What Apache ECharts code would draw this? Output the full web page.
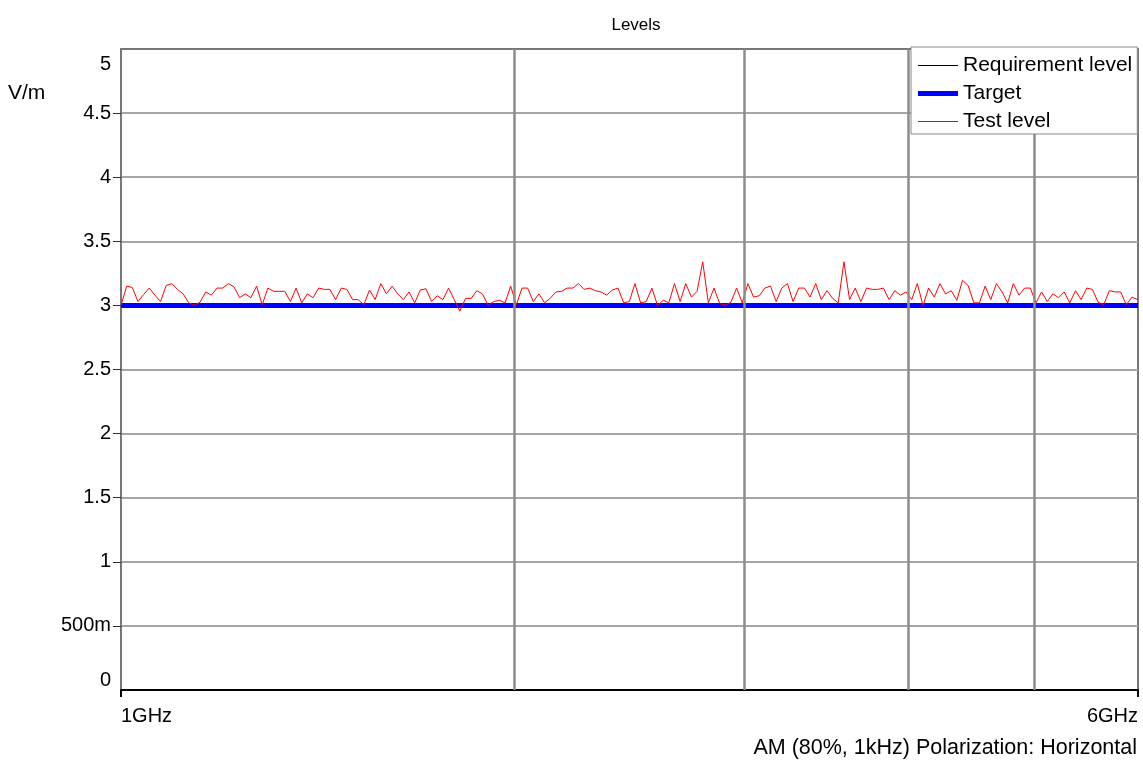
<!DOCTYPE html>
<html>
<head>
<meta charset="utf-8">
<title>Levels</title>
<script src="https://cdn.jsdelivr.net/npm/echarts@6/dist/echarts.min.js"></script>
<style>
  html, body { margin: 0; padding: 0; background: #fff; }
  #chart { width: 1143px; height: 761px; }
</style>
</head>
<body>
<div id="chart"></div>
<script>
// sweep: 1 GHz .. 6 GHz, 1 % steps (181 points)
const sweepStartGHz = 1
const sweepStepPct = 1

// test level (V/m), 4 chunks along the sweep
const testLevelA = [
  3.00, 3.15, 3.14, 3.03, 3.085, 3.135, 3.08, 3.03, 3.155, 3.17,
  3.125, 3.09, 3.02, 3.00, 3.025, 3.105, 3.08, 3.135, 3.135, 3.17,
  3.145, 3.06, 3.09, 3.06, 3.15, 3.005, 3.135, 3.11, 3.11, 3.11,
  3.03, 3.135, 3.02, 3.09, 3.06, 3.135, 3.125, 3.125, 3.045, 3.135,
  3.125, 3.045, 3.045, 3.005, 3.12
]
const testLevelB = [
  3.045, 3.17, 3.09, 3.15, 3.09, 3.045, 3.105, 3.02, 3.12, 3.13,
  3.03, 3.075, 3.045, 3.135, 3.045, 2.955, 3.055, 3.055, 3.115, 3.09,
  3.00, 3.03, 3.04, 3.02, 3.15, 3.005, 3.135, 3.135, 3.03, 3.09,
  3.02, 3.055, 3.105, 3.11, 3.135, 3.135, 3.17, 3.125, 3.135, 3.115,
  3.105, 3.08, 3.12, 3.135, 3.02, 3.03
]
const testLevelC = [
  3.17, 3.02, 3.03, 3.135, 3.00, 3.04, 3.02, 3.17, 3.03, 3.17,
  3.065, 3.11, 3.34, 3.02, 3.135, 3.015, 3.00, 3.025, 3.135, 3.02,
  3.17, 3.065, 3.075, 3.135, 3.15, 3.03, 3.135, 3.17, 3.03, 3.135,
  3.135, 3.065, 3.17, 3.045, 3.115, 3.055, 3.02, 3.34, 3.045, 3.135,
  3.03, 3.135, 3.125, 3.125, 3.135
]
const testLevelD = [
  3.045, 3.115, 3.08, 3.105, 3.045, 3.17, 3.00, 3.135, 3.065, 3.17,
  3.09, 3.115, 3.04, 3.195, 3.155, 3.02, 3.02, 3.15, 3.045, 3.17,
  3.105, 3.02, 3.17, 3.08, 3.135, 3.135, 3.02, 3.105, 3.03, 3.09,
  3.06, 3.105, 3.02, 3.115, 3.045, 3.135, 3.125, 3.025, 3.005, 3.115,
  3.105, 3.105, 3.005, 3.065, 3.045
]

const requirementLevel = [[1, 3], [6, 3]]
const targetLevel = [[1, 3], [6, 3]]

const gridFreqsGHz = [2, 3, 4, 5]
const yTicks = [0, 0.5, 1, 1.5, 2, 2.5, 3, 3.5, 4, 4.5, 5]

const testLevel = testLevelA.concat(testLevelB, testLevelC, testLevelD)
const testData = testLevel.map((v, i) => [sweepStartGHz * Math.pow(1 + sweepStepPct / 100, i), v])

const font = 'Liberation Sans, Arial, sans-serif'
const yMax = yTicks[yTicks.length - 1]

// legend samples: plain bars, thin for the 1px series, thick for the target
const thinIcon = 'path://M0,0L40,0L40,1L0,1Z'
const thickIcon = 'path://M0,0L40,0L40,5L0,5Z'

const chart = echarts.init(document.getElementById('chart'))
chart.setOption({
  animation: false,
  title: {
    text: 'Levels',
    left: 636,
    top: 17,
    padding: 0,
    textAlign: 'center',
    textStyle: { fontFamily: font, fontSize: 17, fontWeight: 'normal', color: '#000' }
  },
  legend: {
    orient: 'vertical',
    left: 911,
    top: 47,
    padding: [8, 5, 2, 7],
    itemGap: 7,
    itemWidth: 40,
    itemHeight: 13,
    symbolKeepAspect: true,
    backgroundColor: '#fff',
    borderColor: '#888',
    borderWidth: 1,
    borderRadius: 0,
    z: 10,
    textStyle: { fontFamily: font, fontSize: 21, color: '#000' },
    data: [
      { name: 'Requirement level', icon: thinIcon, itemStyle: { color: '#000' } },
      { name: 'Target', icon: thickIcon, itemStyle: { color: '#0000ff' } },
      { name: 'Test level', icon: thinIcon, itemStyle: { color: '#ff0000' } }
    ]
  },
  grid: {
    left: 121,
    right: 5,
    top: 49,
    bottom: 71,
    show: true,
    borderColor: '#777',
    borderWidth: 2
  },
  graphic: [
    {
      type: 'text',
      left: 8,
      top: 83,
      style: { text: 'V/m', fontFamily: font, fontSize: 21, fill: '#000' }
    },
    {
      type: 'text',
      right: 6,
      top: 737,
      style: { text: 'AM (80%, 1kHz) Polarization: Horizontal', fontFamily: font, fontSize: 21.5, fill: '#000' }
    }
  ],
  xAxis: {
    type: 'log',
    logBase: 10,
    min: 1,
    max: 6,
    splitNumber: 1,
    axisLine: { show: true, lineStyle: { color: '#000', width: 2 } },
    axisTick: { show: true, length: 7, lineStyle: { color: '#000', width: 2 } },
    splitLine: { show: false },
    axisLabel: {
      margin: 16,
      fontFamily: font,
      fontSize: 20,
      color: '#000',
      alignMinLabel: 'left',
      alignMaxLabel: 'right',
      formatter: function(v) {
        if (Math.abs(v - 1) < 1e-6) return '1GHz'
        if (Math.abs(v - 6) < 1e-6) return '6GHz'
        return ''
      }
    }
  },
  yAxis: {
    type: 'value',
    min: yTicks[0],
    max: yMax,
    interval: 0.5,
    axisLine: { show: true, lineStyle: { color: '#777', width: 2 } },
    // no tick marks at the frame corners
    axisTick: {
      show: true,
      length: 8,
      customValues: yTicks.slice(1, -1),
      lineStyle: { color: '#333', width: 1 }
    },
    splitLine: { show: true, lineStyle: { color: '#a6a6a6', width: 2 } },
    axisLabel: {
      margin: 10,
      fontFamily: font,
      fontSize: 20,
      color: '#000',
      verticalAlignMinLabel: 'bottom',
      verticalAlignMaxLabel: 'top',
      rich: {
        top: { fontFamily: font, fontSize: 20, color: '#000', padding: [5, 0, 0, 0] }
      },
      formatter: function(v) {
        if (v === 0.5) return '500m'
        if (v === yMax) return '{top|' + v + '}'
        return String(v)
      }
    }
  },
  series: [
    {
      name: 'Requirement level',
      type: 'line',
      symbol: 'none',
      color: '#000',
      lineStyle: { color: '#000', width: 1 },
      data: requirementLevel,
      markLine: {
        silent: true,
        symbol: 'none',
        label: { show: false },
        lineStyle: { color: '#8c8c8c', width: 2.5, type: 'solid' },
        data: gridFreqsGHz.map(f => ({ xAxis: f }))
      },
      z: 2
    },
    {
      name: 'Target',
      type: 'line',
      symbol: 'none',
      color: '#0000ff',
      lineStyle: { color: '#0000ff', width: 5 },
      data: targetLevel,
      z: 3
    },
    {
      name: 'Test level',
      type: 'line',
      symbol: 'none',
      color: '#ff0000',
      lineStyle: { color: '#ff0000', width: 1 },
      data: testData,
      z: 4
    }
  ]
})
</script>
</body>
</html>
